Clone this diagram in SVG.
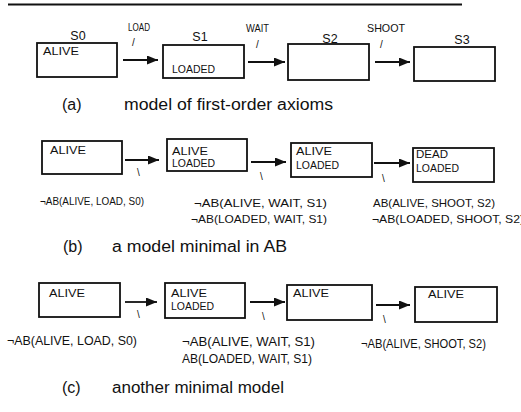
<svg xmlns="http://www.w3.org/2000/svg" width="521" height="412" viewBox="0 0 521 412">
<style>
.box{fill:#fff;stroke:#111;stroke-width:1.8}
.arr{stroke:#111;stroke-width:1.8;fill:none;marker-end:url(#ah)}
text{font-family:"Liberation Sans",Arial,sans-serif;fill:#111}
.in{font-size:11px}
.st{font-size:12.5px}
.act{font-size:11px}
.sl{font-size:10px}
.f{font-size:11px}
.fc{font-size:12px}
.cap{font-size:16px}
</style>
<defs>
<marker id="ah" markerUnits="userSpaceOnUse" markerWidth="11" markerHeight="9" refX="11" refY="4.5" orient="auto">
<path d="M0,0 L11,4.5 L0,9 z" fill="#111"/>
</marker>
</defs>
<rect width="521" height="412" fill="#fff"/>
<line x1="8" y1="4.5" x2="462" y2="4.5" stroke="#111" stroke-width="1.8"/>

<!-- panel (a) -->
<g id="a-S0"><text class="st" x="78" y="40" text-anchor="middle">S0</text><rect class="box" x="37" y="43" width="80" height="34"/><text class="in" x="43" y="55" textLength="36" lengthAdjust="spacingAndGlyphs">ALIVE</text></g>
<g id="a-S1"><text class="st" x="200" y="41" text-anchor="middle">S1</text><rect class="box" x="163" y="45" width="81" height="33"/><text class="in" x="172" y="73" textLength="43" lengthAdjust="spacingAndGlyphs">LOADED</text></g>
<g id="a-S2"><text class="st" x="330" y="43" text-anchor="middle">S2</text><rect class="box" x="288" y="44" width="81" height="36"/></g>
<g id="a-S3"><text class="st" x="462" y="44" text-anchor="middle">S3</text><rect class="box" x="414" y="47" width="81" height="34"/></g>
<g id="a-connectors">
<line class="arr" x1="123" y1="60" x2="158" y2="60"/>
<line class="arr" x1="248" y1="62" x2="285" y2="62"/>
<line class="arr" x1="375" y1="62" x2="410" y2="62"/>
<text class="act" x="128" y="31" textLength="22" lengthAdjust="spacingAndGlyphs">LOAD</text>
<text class="sl" x="132" y="46">/</text>
<text class="act" x="246" y="32" textLength="23" lengthAdjust="spacingAndGlyphs">WAIT</text>
<text class="sl" x="256" y="48">/</text>
<text class="act" x="367" y="32" textLength="38" lengthAdjust="spacingAndGlyphs">SHOOT</text>
<text class="sl" x="380" y="48">/</text>
</g>
<text class="cap" x="62" y="110">(a)</text>
<text class="cap" x="124" y="110" textLength="209" lengthAdjust="spacingAndGlyphs">model of first-order axioms</text>

<!-- panel (b) -->
<g id="b-S0"><rect class="box" x="42" y="141" width="80" height="33"/><text class="in" x="50" y="154" textLength="36" lengthAdjust="spacingAndGlyphs">ALIVE</text></g>
<g id="b-S1"><rect class="box" x="167" y="139" width="80" height="32"/><text class="in" x="172" y="155" textLength="36" lengthAdjust="spacingAndGlyphs">ALIVE</text><text class="in" x="172" y="167" textLength="43" lengthAdjust="spacingAndGlyphs">LOADED</text></g>
<g id="b-S2"><rect class="box" x="291" y="143" width="81" height="34"/><text class="in" x="296" y="155" textLength="36" lengthAdjust="spacingAndGlyphs">ALIVE</text><text class="in" x="296" y="169" textLength="43" lengthAdjust="spacingAndGlyphs">LOADED</text></g>
<g id="b-S3"><rect class="box" x="413" y="148" width="81" height="34"/><text class="in" x="416" y="158" textLength="32" lengthAdjust="spacingAndGlyphs">DEAD</text><text class="in" x="416" y="172" textLength="43" lengthAdjust="spacingAndGlyphs">LOADED</text></g>
<g id="b-connectors">
<line class="arr" x1="125" y1="160" x2="159" y2="160"/>
<line class="arr" x1="251" y1="162" x2="286" y2="162"/>
<line class="arr" x1="374" y1="163" x2="410" y2="163"/>
<text class="sl" x="137" y="176">\</text>
<text class="sl" x="260" y="180">\</text>
<text class="sl" x="382" y="182">\</text>
</g>
<text class="f" x="40" y="205" textLength="104" lengthAdjust="spacingAndGlyphs">¬AB(ALIVE, LOAD, S0)</text>
<text class="f" x="194" y="207" textLength="133" lengthAdjust="spacingAndGlyphs">¬AB(ALIVE, WAIT, S1)</text>
<text class="f" x="191" y="223" textLength="136" lengthAdjust="spacingAndGlyphs">¬AB(LOADED, WAIT, S1)</text>
<text class="f" x="373" y="207" textLength="122" lengthAdjust="spacingAndGlyphs">AB(ALIVE, SHOOT, S2)</text>
<text class="f" x="372" y="223" textLength="152" lengthAdjust="spacingAndGlyphs">¬AB(LOADED, SHOOT, S2)</text>
<text class="cap" x="63" y="252">(b)</text>
<text class="cap" x="112" y="252" textLength="175" lengthAdjust="spacingAndGlyphs">a model minimal in AB</text>

<!-- panel (c) -->
<g id="c-S0"><rect class="box" x="39" y="283" width="81" height="34"/><text class="in" x="49" y="297" textLength="36" lengthAdjust="spacingAndGlyphs">ALIVE</text></g>
<g id="c-S1"><rect class="box" x="165" y="283" width="80" height="35"/><text class="in" x="171" y="297" textLength="36" lengthAdjust="spacingAndGlyphs">ALIVE</text><text class="in" x="171" y="310" textLength="43" lengthAdjust="spacingAndGlyphs">LOADED</text></g>
<g id="c-S2"><rect class="box" x="287" y="285" width="85" height="35"/><text class="in" x="293" y="297" textLength="36" lengthAdjust="spacingAndGlyphs">ALIVE</text></g>
<g id="c-S3"><rect class="box" x="415" y="287" width="82" height="35"/><text class="in" x="428" y="298" textLength="36" lengthAdjust="spacingAndGlyphs">ALIVE</text></g>
<g id="c-connectors">
<line class="arr" x1="125" y1="302" x2="157" y2="302"/>
<line class="arr" x1="250" y1="302" x2="285" y2="302"/>
<line class="arr" x1="376" y1="305" x2="410" y2="305"/>
<text class="sl" x="137" y="318">\</text>
<text class="sl" x="262" y="320">\</text>
<text class="sl" x="383" y="323">\</text>
</g>
<text class="fc" x="7" y="345" textLength="130" lengthAdjust="spacingAndGlyphs">¬AB(ALIVE, LOAD, S0)</text>
<text class="fc" x="182" y="346" textLength="133" lengthAdjust="spacingAndGlyphs">¬AB(ALIVE, WAIT, S1)</text>
<text class="fc" x="182" y="363" textLength="130" lengthAdjust="spacingAndGlyphs">AB(LOADED, WAIT, S1)</text>
<text class="fc" x="361" y="348" textLength="125" lengthAdjust="spacingAndGlyphs">¬AB(ALIVE, SHOOT, S2)</text>
<text class="cap" x="62" y="393">(c)</text>
<text class="cap" x="112" y="393" textLength="172" lengthAdjust="spacingAndGlyphs">another minimal model</text>
</svg>
